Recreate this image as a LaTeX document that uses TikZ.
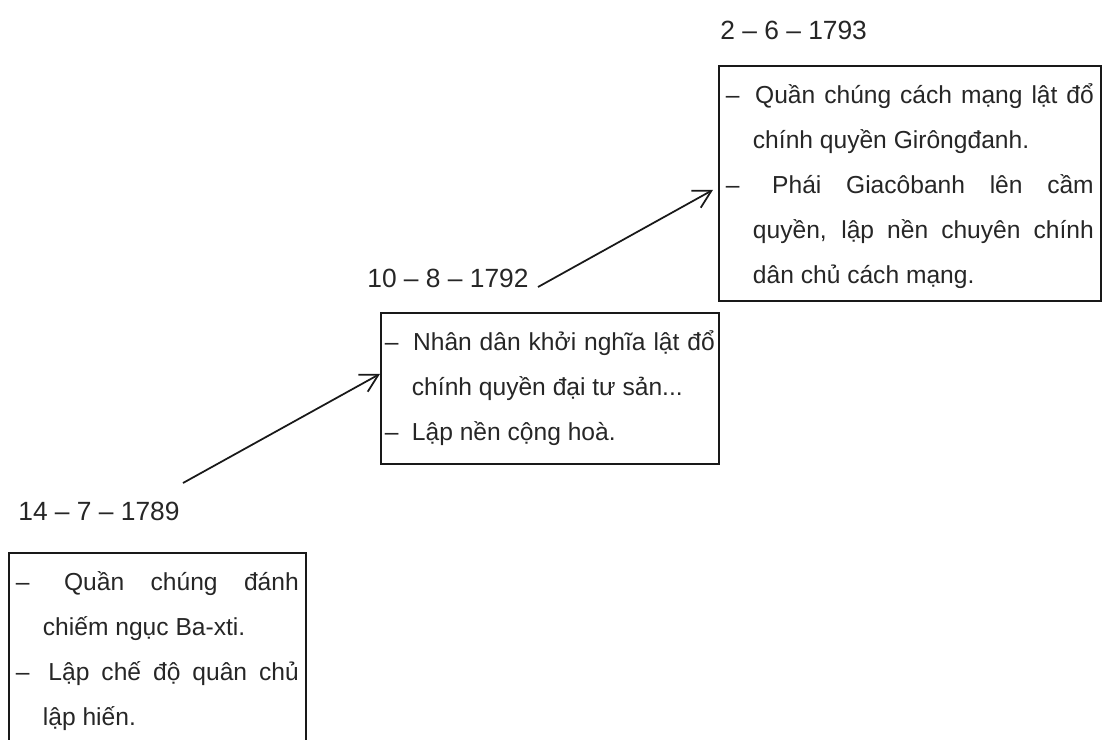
\documentclass[tikz,border=0pt]{standalone}
\usepackage{fontspec}
\setmainfont{Liberation Sans}
\usetikzlibrary{arrows.meta, positioning}

\newcommand{\evline}[1]{\hyphenpenalty=10000\relax\exhyphenpenalty=10000\relax
    \leftskip=0pt\relax\rightskip=0pt\relax\spaceskip=0pt\relax\parfillskip=0pt plus 1fil\relax
    \hangindent=1.1em\relax\hangafter=1\relax\noindent\makebox[1.1em][l]{--}\hspace{0pt plus .15em}#1\par}

\begin{document}
\begin{tikzpicture}[x=0.02cm, y=-0.02cm]

    % Define styles
    \tikzstyle{date} = [anchor=base west, inner sep=0pt, text=black!85, font=\fontsize{15pt}{18pt}\selectfont]
    \tikzstyle{event} = [rectangle, draw=black!90, line width=1pt, anchor=north west, inner ysep=0pt, text height=0.76cm, text=black!85, font=\fontsize{14pt}{25.5pt}\selectfont]
    \tikzstyle{link} = [line width=1pt, draw=black!90, -{Straight Barb[length=10pt, width=11pt]}]

    \useasboundingbox (0,0) rectangle (1102,740);

    % Dates
    \node[date] (dateBastille) at (18,520) {14 -- 7 -- 1789};
    \node[date] (dateRepublic) at (367,287) {10 -- 8 -- 1792};
    \node[date] (dateJacobin) at (720,40) {2 -- 6 -- 1793};

    % Event boxes
    \node[event, text width=5.66cm, inner xsep=0.14cm, text depth=3.8cm] (boxBastille) at (8,552) {%
        \evline{Quần chúng đánh\linebreak chiếm ngục Ba-xti.}%
        \evline{Lập chế độ quân chủ\linebreak lập hiến.}};
    \node[event, text width=6.6cm, inner xsep=0.08cm, text depth=2.26cm] (boxRepublic) at (380,312) {%
        \evline{Nhân dân khởi nghĩa lật đổ\linebreak chính quyền đại tư sản...}%
        \evline{Lập nền cộng hoà.}};
    \node[event, text width=7.36cm, inner xsep=0.14cm, text depth=3.94cm] (boxJacobin) at (718,65) {%
        \evline{Quần chúng cách mạng lật đổ\linebreak chính quyền Girôngđanh.}%
        \evline{Phái Giacôbanh lên cầm\linebreak quyền, lập nền chuyên chính\linebreak dân chủ cách mạng.}};

    % Arrows
    \coordinate (fromBastille) at (183,483);
    \coordinate (fromRepublic) at (538,287);
    \draw[link] (fromBastille) -- ([yshift=0.29cm]boxRepublic.west);
    \draw[link] (fromRepublic) -- ([xshift=-0.1cm, yshift=-0.13cm]boxJacobin.west);

\end{tikzpicture}
\end{document}
